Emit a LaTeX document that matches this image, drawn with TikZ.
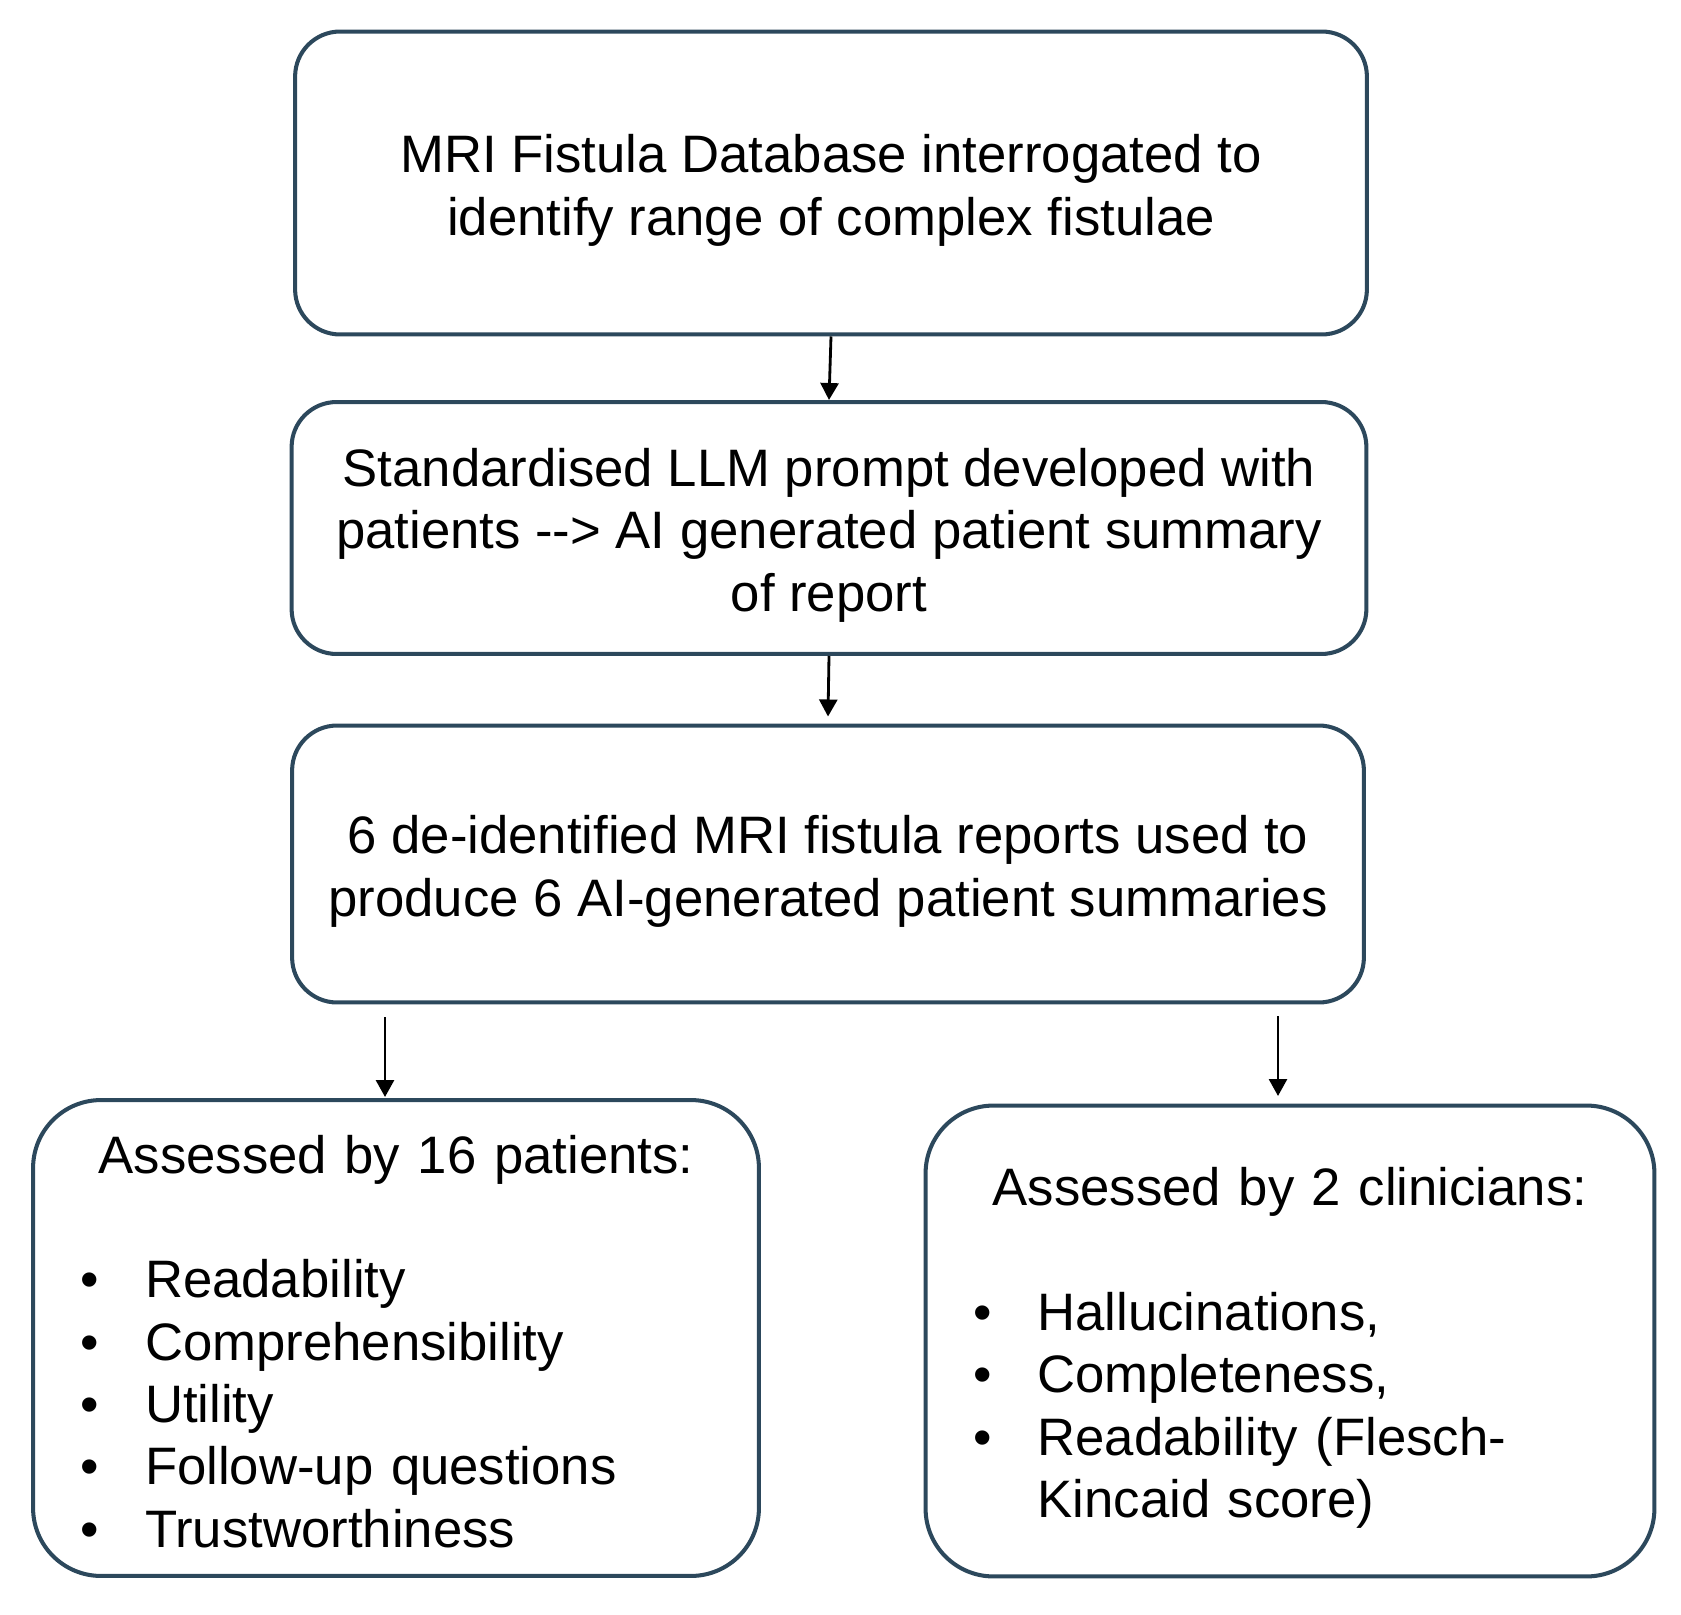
\documentclass[tikz,border=0pt]{standalone}
\usepackage{fontspec}
\setmainfont{Liberation Sans}
\usepackage{tikz}
\usetikzlibrary{arrows.meta,positioning,calc}
\definecolor{boxline}{RGB}{44,72,92}
\newcommand{\bul}{\par\noindent\hangindent=2.24cm\hangafter=1\makebox[2.24cm][l]{\hspace{0.95cm}\textbullet}}
\newcommand{\topstrut}[1]{\rule{0pt}{#1}}

\begin{document}
\begin{tikzpicture}[x=0.02cm,y=-0.02cm,
  stagebox/.style={draw=boxline,line width=2.3pt,rounded corners=0.9cm,align=center,
    inner sep=0pt,font=\fontsize{30}{35.5}\selectfont},
  evalbox/.style={draw=boxline,line width=2.3pt,rounded corners=1.36cm,align=left,
    inner sep=0pt,font=\fontsize{30}{35.5}\selectfont},
  flow/.style={-{Triangle[length=0.34cm,width=0.36cm]},line width=1.6pt,black}]
  \useasboundingbox (0,0) rectangle (1681,1615);
  % pipeline
  \node[stagebox,minimum width=21.44cm,minimum height=6.06cm] (db) at (831,183)
    {\topstrut{30pt}MRI Fistula Database interrogated to\\identify range of complex fistulae};
  \node[stagebox,minimum width=21.5cm,minimum height=5.04cm] (prompt) at (829,528)
    {\topstrut{30pt}Standardised LLM prompt developed with\\patients -\kern0pt-\kern0pt> AI generated patient summary\\of report};
  \node[stagebox,minimum width=21.44cm,minimum height=5.54cm] (reports) at (828,864)
    {\topstrut{30pt}6 de-identified MRI fistula reports used to\\produce 6 AI-generated patient summaries};
  \draw[flow] (db.south) -- (prompt.north);
  \draw[flow] (prompt.south) -- ([yshift=0.14cm]reports.north);
  % assessment
  \node[evalbox,text width=14.52cm,minimum height=9.52cm] (patients) at (396,1338)
    {\topstrut{25.5pt}\makebox[\hsize][c]{Assessed by 16 patients:}\par\vspace{35.5pt}%
     \bul Readability
     \bul Comprehensibility
     \bul Utility
     \bul Follow-up questions
     \bul Trustworthiness\par};
  \node[evalbox,text width=14.58cm,minimum height=9.42cm] (clinicians) at (1290,1341)
    {\topstrut{29.5pt}\makebox[\hsize][c]{Assessed by 2 clinicians:}\par\vspace{35.5pt}%
     \bul Hallucinations,
     \bul Completeness,
     \bul Readability (Flesch-\hfil\break Kincaid score)\par};
  \coordinate (pa) at (385,1017);
  \coordinate (pb) at (385,1097);
  \coordinate (ca) at (1278,1016);
  \coordinate (cb) at (1278,1096);
  \draw[flow] (pa) -- (pb);
  \draw[flow] (ca) -- (cb);
\end{tikzpicture}
\end{document}
